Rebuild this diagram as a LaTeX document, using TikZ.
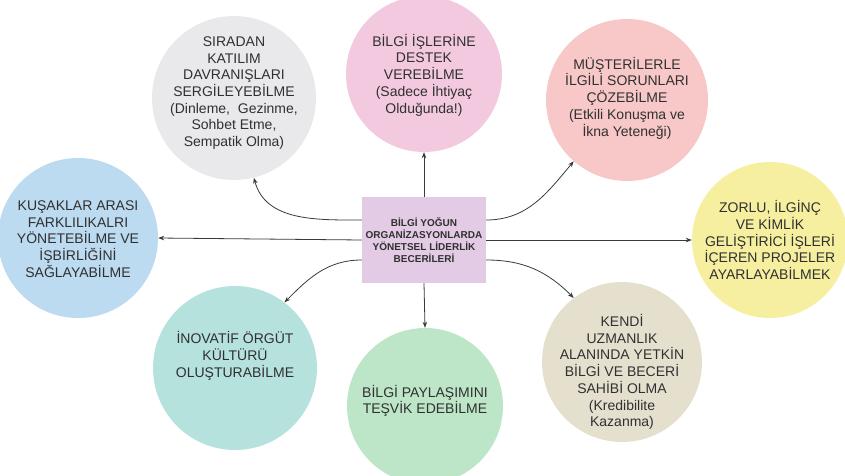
\documentclass[tikz,border=0pt]{standalone}
\usepackage{fontspec}
\setmainfont{Liberation Sans}
\usetikzlibrary{arrows.meta,calc}
\definecolor{cgrey}{HTML}{E9E9EB}
\definecolor{cpink}{HTML}{F3C9DF}
\definecolor{csalmon}{HTML}{F8C8C8}
\definecolor{cblue}{HTML}{BCDAF0}
\definecolor{cyellow}{HTML}{F6EFA0}
\definecolor{cteal}{HTML}{B6E2DE}
\definecolor{cgreen}{HTML}{BDE5C8}
\definecolor{cbeige}{HTML}{E5E0CE}
\definecolor{cbox}{HTML}{E3CBE5}
\definecolor{ctext}{HTML}{303030}
\definecolor{cline}{HTML}{3A3A3A}
\tikzset{
  bubble/.style={circle, inner sep=0pt, draw=none},
  btext/.style={align=center, text=ctext, inner sep=0pt, font=\fontsize{14}{16.7}\selectfont},
  centerbox/.style={rectangle, fill=cbox, minimum width=124pt, minimum height=86pt, inner sep=0pt,
     align=center, text=ctext, font=\bfseries\fontsize{10}{12.2}\selectfont},
  conn/.style={draw=cline, line width=0.8pt, -{Stealth[length=6pt,width=4.5pt]}}
}
\begin{document}
\begin{tikzpicture}[x=1pt,y=1pt]
\useasboundingbox (0,0) rectangle (845,475);
\begin{scope}
\clip (0,0) rectangle (845,475);
% circles
\node[bubble, fill=cgrey, minimum size=164pt] (grey) at (234,377) {};
\node[bubble, fill=cpink, minimum size=156pt] (pink) at (424,401) {};
\node[bubble, fill=csalmon, minimum size=162pt] (salmon) at (627,375) {};
\node[bubble, fill=cblue, minimum size=160pt] (blue) at (78,237) {};
\node[bubble, fill=cyellow, minimum size=156pt] (yellow) at (770,235) {};
\node[bubble, fill=cteal, minimum size=164pt] (teal) at (235,107) {};
\node[bubble, fill=cgreen, minimum size=156pt] (green) at (425,69) {};
\node[bubble, fill=cbeige, minimum size=160pt] (beige) at (622,113) {};
\end{scope}
% texts
\node[btext] (tgrey) at (234,382) {SIRADAN\\KATILIM\\DAVRANIŞLARI\\SERGİLEYEBİLME\\(Dinleme,~ Gezinme,\\Sohbet Etme,\\Sempatik Olma)};
\node[btext] (tpink) at (424,400) {BİLGİ İŞLERİNE\\DESTEK\\VEREBİLME\\(Sadece İhtiyaç\\Olduğunda!)};
\node[btext] (tsalmon) at (627,377) {MÜŞTERİLERLE\\İLGİLİ SORUNLARI\\ÇÖZEBİLME\\(Etkili Konuşma ve\\İkna Yeteneği)};
\node[btext] (tblue) at (78,236) {KUŞAKLAR ARASI\\FARKLILIKALRI\\YÖNETEBİLME VE\\İŞBİRLİĞİNİ\\SAĞLAYABİLME};
\node[btext] (tyellow) at (770,235) {ZORLU, İLGİNÇ\\VE KİMLİK\\GELİŞTİRİCİ İŞLERİ\\İÇEREN PROJELER\\AYARLAYABİLMEK};
\node[btext] (tteal) at (235,119) {İNOVATİF ÖRGÜT\\KÜLTÜRÜ\\OLUŞTURABİLME};
\node[btext] (tgreen) at (425,74) {BİLGİ PAYLAŞIMINI\\TEŞVİK EDEBİLME};
\node[btext] (tbeige) at (622,103) {KENDİ\\UZMANLIK\\ALANINDA YETKİN\\BİLGİ VE BECERİ\\SAHİBİ OLMA\\(Kredibilite\\Kazanma)};
% central box
\node[centerbox] (box) at (424,235) {BİLGİ YOĞUN\\ORGANİZASYONLARDA\\YÖNETSEL LİDERLİK\\BECERİLERİ};
\coordinate (wu) at ($(box.west)+(0,20)$);
\coordinate (wd) at ($(box.west)+(0,-20)$);
\coordinate (eu) at ($(box.east)+(0,20)$);
\coordinate (ed) at ($(box.east)+(0,-20)$);
% connectors
\draw[conn] (box.north) -- (pink.south);
\draw[conn] (box.south) -- (green.north);
\draw[conn] (box.west) -- (blue.east);
\draw[conn] (box.east) -- (yellow.west);
\draw[conn] (wu) to[out=180,in=-75] (grey.-76);
\draw[conn] (eu) to[out=0,in=-130] (salmon.-131);
\draw[conn] (wd) to[out=180,in=45] (teal.53);
\draw[conn] (ed) to[out=0,in=135] (beige.127);
\end{tikzpicture}
\end{document}
